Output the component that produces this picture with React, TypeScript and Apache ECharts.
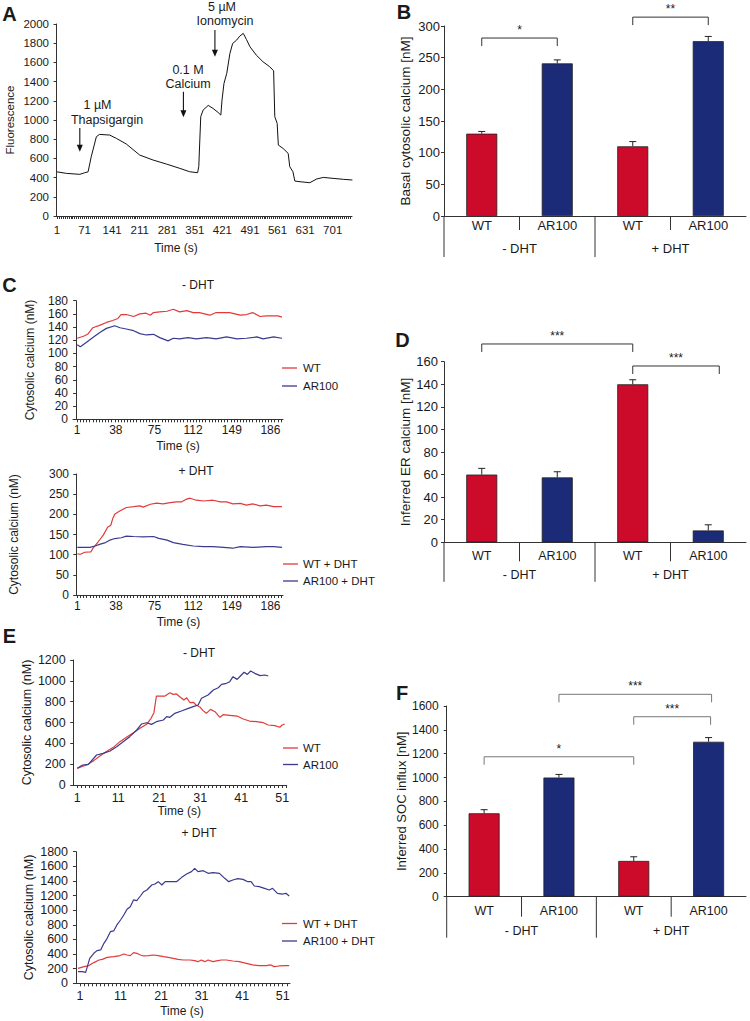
import React, { useEffect, useRef } from "react";
import * as echarts from "echarts";

const FONT = "'Liberation Sans', Arial, Helvetica, sans-serif";
const TXT = "#1a1a1a";
const AXIS = "#333333";
const RED_BAR = "#CC0A2A";
const BLUE_BAR = "#1B2B78";
const RED_LINE = "#E23A3A";
const BLUE_LINE = "#3A3A8E";

// ---------- Panel A : Fluorescence trace ----------
const aTimes = [1, 25, 59, 71, 80, 88, 101, 109, 135, 152, 177, 211, 245, 279, 313, 338, 358, 361, 366, 372, 385, 397, 410, 417, 420, 425, 432, 440, 447, 457, 465, 474, 482, 491, 507, 524, 541, 551, 554, 560, 563, 575, 588, 592, 600, 605, 618, 643, 660, 677, 702, 728, 751];
const aFluorescence = [460, 444, 434, 450, 460, 618, 826, 850, 843, 808, 750, 635, 583, 541, 496, 461, 451, 514, 1034, 1103, 1152, 1121, 1079, 1051, 1207, 1381, 1485, 1693, 1797, 1832, 1874, 1902, 1839, 1763, 1676, 1607, 1555, 1513, 1034, 965, 739, 704, 652, 514, 461, 364, 357, 347, 385, 402, 392, 382, 375];
const aTimeLabels = [1, 71, 141, 211, 281, 351, 421, 491, 561, 631, 701];
const aArrows = [
  { time: 59, tip: 670, tail: 917 },
  { time: 322, tip: 1028, tail: 1295 },
  { time: 402, tip: 1660, tail: 1938 },
];
const aArrowTexts = [
  { text: "1 µM", x: 97.5, y: 105 },
  { text: "Thapsigargin", x: 107, y: 119.5 },
  { text: "0.1 M", x: 188, y: 69.5 },
  { text: "Calcium", x: 188, y: 84 },
  { text: "5 µM", x: 222, y: 6.5 },
  { text: "Ionomycin", x: 225, y: 21 },
];

// ---------- Bar panels (B, D, F) ----------
const barCategories = ["WT", "AR100", "WT", "AR100"];
const groupLabels = ["- DHT", "+ DHT"];

const bValues = [130, 241, 110, 276];
const bErrors = [3.5, 5.5, 7.5, 7.5];
const bBrackets = [
  { from: 0, to: 1, level: 281, label: "*", toDx: 0 },
  { from: 2, to: 3, level: 314, label: "**", toDx: 0 },
];

const dValues = [60, 57.5, 140, 10.5];
const dErrors = [5.5, 5, 4, 5];
const dBrackets = [
  { from: 0, to: 2, level: 175.7, label: "***", toDx: 0 },
  { from: 2, to: 3, level: 156.2, label: "***", toDx: 11 },
];

const fValues = [700, 1000, 300, 1300];
const fErrors = [30, 26, 35, 35];
const fBrackets = [
  { from: 1, to: 3, level: 1698, label: "***", toDx: 3 },
  { from: 2, to: 3, level: 1510, label: "***", toDx: 2 },
  { from: 0, to: 2, level: 1174, label: "*", toDx: 0 },
];

// ---------- Panel C : cytosolic calcium (0-200 s) ----------
const cTimeLabels = [1, 38, 75, 112, 149, 186];
const cMinusWT: number[][] = [[1, 123], [7, 126], [11, 129], [16, 139], [23, 143], [29, 147], [35, 150], [40, 153], [43, 159], [48, 159], [55, 156], [61, 160], [67, 161], [71, 158], [74, 162], [80, 163], [87, 164], [93, 167], [99, 163], [106, 165], [112, 162], [118, 162], [128, 158], [134, 162], [147, 162], [157, 158], [163, 159], [169, 162], [176, 156], [182, 157], [189, 157], [193, 157], [197, 155]];
const cMinusAR100: number[][] = [[1, 113], [4, 110], [10, 117], [16, 124], [23, 132], [29, 138], [37, 142], [42, 139], [48, 137], [55, 134.5], [61, 130], [67, 128], [74, 129], [80, 124], [88, 119], [93, 123], [99, 122], [107, 124], [115, 122], [125, 124], [134, 122], [144, 125], [154, 122], [163, 123], [173, 125], [179, 122], [189, 125], [197, 123]];
const cPlusWT: number[][] = [[1, 102], [4, 101], [8, 106], [14, 107], [16, 116], [21, 132], [26, 149], [30, 168], [33, 173], [35, 190], [37, 201], [42, 209], [48, 217], [55, 219], [61, 221], [64, 218], [71, 225], [77, 228], [83, 226], [90, 229], [96, 231], [101, 231], [105, 237], [109, 240], [115, 235], [122, 233], [131, 235], [138, 231], [144, 231], [150, 226], [157, 227], [163, 223], [169, 226], [176, 221], [182, 223], [189, 219], [197, 219]];
const cPlusAR100: number[][] = [[1, 118], [13, 118], [18, 121.5], [23, 126], [28, 130], [32, 136], [37, 140], [43, 142], [48, 146], [55, 145], [64, 144], [74, 145], [79, 140.5], [87, 136], [93, 130], [102, 125.5], [112, 121.5], [122, 120], [131, 120], [141, 118], [150, 116], [157, 120], [169, 118], [182, 120], [189, 120], [197, 118]];

// ---------- Panel E : cytosolic calcium (0-52 s) ----------
const eTimeLabels = [1, 11, 21, 31, 41, 51];
const eMinusWT: number[][] = [[1, 160], [2, 176], [3.3, 192], [5, 234], [6.5, 278], [8, 320], [10, 368], [11.4, 416], [13, 458], [14.7, 502], [16.3, 544], [18, 586], [19, 640], [19.7, 694], [20.3, 854], [21, 854], [22.4, 854], [23.6, 886], [24.4, 870], [25.2, 874], [26, 848], [27, 816], [27.7, 838], [28.5, 790], [29.3, 794], [30, 768], [31, 746], [31.7, 714], [32.5, 688], [33.5, 726], [34.6, 704], [35.8, 650], [36.6, 675], [38.2, 669], [40, 662], [41.5, 634], [43, 614], [44.7, 608], [46.4, 598], [47.6, 576], [49.2, 570], [50.4, 554], [51, 576], [51.6, 586]];
const eMinusAR100: number[][] = [[1, 160], [2.3, 192], [3.7, 198], [5.7, 288], [7.3, 304], [9, 326], [10.6, 368], [12.2, 416], [13.8, 464], [15.5, 528], [16.7, 586], [17.9, 598], [19.1, 582], [20.3, 608], [22, 624], [22.8, 656], [23.6, 650], [24.8, 688], [26.4, 710], [28.1, 736], [29.3, 752], [30.5, 768], [31.3, 832], [32.9, 864], [34.2, 912], [35.4, 934], [36.2, 966], [37.4, 976], [38.2, 992], [39, 1040], [40, 1014], [40.8, 1046], [41.7, 1082], [42.5, 1062], [43.3, 1094], [44.3, 1072], [45.6, 1050], [46.8, 1056], [47.6, 1046]];
const ePlusWT: number[][] = [[0.5, 205], [2, 228], [3.2, 242], [4.4, 283], [5.7, 319], [6.5, 328], [7.7, 355], [9.3, 365], [10.6, 374], [11.8, 401], [12.6, 387], [13.4, 378], [14.2, 419], [15, 410], [15.9, 387], [16.7, 374], [17.9, 378], [19.1, 387], [20.3, 378], [21.6, 365], [22.8, 355], [24, 342], [25.2, 328], [26.5, 319], [28.1, 319], [29.3, 310], [30.1, 296], [30.9, 319], [31.8, 296], [32.6, 319], [33.8, 296], [35, 310], [35.9, 319], [37.1, 319], [38.7, 305], [40.3, 296], [42, 273], [43.6, 251], [45.2, 242], [46.9, 242], [48.1, 251], [48.9, 228], [50.1, 237], [51.8, 242], [52.6, 242]];
const ePlusAR100: number[][] = [[0.5, 160], [1.6, 160], [2.4, 150], [3.4, 342], [4.4, 410], [5.2, 447], [6.1, 456], [6.9, 547], [7.7, 615], [8.5, 706], [9.3, 716], [10.1, 798], [11, 866], [11.8, 934], [12.6, 1012], [13.4, 1048], [14.2, 1140], [15, 1130], [15.9, 1194], [16.7, 1253], [17.5, 1276], [18.7, 1345], [19.5, 1358], [20.3, 1390], [21.2, 1345], [22, 1390], [23.2, 1390], [24.8, 1390], [26.1, 1449], [27.3, 1495], [28.5, 1527], [29.3, 1572], [30.1, 1527], [31.4, 1540], [32.6, 1504], [33.8, 1513], [35.4, 1504], [36.7, 1436], [37.7, 1390], [38.7, 1413], [39.9, 1431], [41.2, 1422], [42.4, 1390], [43.2, 1390], [44, 1331], [45.2, 1322], [46.5, 1299], [47.7, 1276], [48.5, 1299], [49.7, 1231], [51, 1221], [51.8, 1231], [52.6, 1194]];

// ---------- helpers ----------
function range(start: number, end: number, step: number) {
  const out: number[] = [];
  for (let v = start; v <= end + 1e-9; v += step) out.push(v);
  return out;
}

const plain = (v: number) => String(v);

const grids = [
  { left: 55, top: 24, width: 297, height: 192 }, // 0 A
  { left: 444, top: 26, width: 302, height: 190 }, // 1 B
  { left: 73, top: 300.7, width: 210, height: 118.6 }, // 2 C-
  { left: 74, top: 474, width: 209, height: 121 }, // 3 C+
  { left: 444, top: 361.7, width: 302, height: 180.6 }, // 4 D
  { left: 71.7, top: 660, width: 215, height: 125 }, // 5 E-
  { left: 74, top: 851.7, width: 216, height: 131.6 }, // 6 E+
  { left: 446.7, top: 706, width: 299.3, height: 190.7 }, // 7 F
];

function yAxis(gi: number, max: number, interval: number, fs: number, margin: number, name: string, nameFs: number, nameGap: number) {
  return {
    type: "value", gridIndex: gi, min: 0, max, interval,
    name, nameLocation: "middle", nameGap,
    nameTextStyle: { fontSize: nameFs, fontFamily: FONT, color: TXT },
    axisLine: { show: true, lineStyle: { color: AXIS, width: 1 } },
    axisTick: { show: true, length: 3, lineStyle: { color: AXIS, width: 1 } },
    axisLabel: { fontSize: fs, fontFamily: FONT, color: TXT, margin, formatter: plain },
    splitLine: { show: false },
  };
}

function timeAxis(gi: number, min: number, max: number, labels: number[], ticks: number[], fs: number, margin: number, showName: boolean, nameGap: number) {
  return {
    type: "value", gridIndex: gi, min, max,
    name: showName ? "Time (s)" : "", nameLocation: "middle", nameGap,
    nameTextStyle: { fontSize: 12, fontFamily: FONT, color: TXT },
    axisLine: { show: true, lineStyle: { color: AXIS, width: 1 } },
    axisTick: { show: true, length: 3, customValues: ticks, lineStyle: { color: AXIS, width: 1 } },
    axisLabel: { customValues: labels, fontSize: fs, fontFamily: FONT, color: TXT, margin, formatter: plain },
    splitLine: { show: false },
  };
}

function catAxis(gi: number, fs: number, margin: number) {
  return {
    type: "category", gridIndex: gi, data: barCategories,
    axisLine: { show: true, lineStyle: { color: AXIS, width: 1 } },
    axisTick: { show: false },
    axisLabel: { fontSize: fs, fontFamily: FONT, color: TXT, margin, interval: 0 },
    splitLine: { show: false },
  };
}

function barSeries(gi: number, values: number[]) {
  return {
    type: "bar", xAxisIndex: gi, yAxisIndex: gi, barWidth: 31, silent: true,
    data: values.map((v, i) => ({
      value: v,
      itemStyle: { color: barCategories[i] === "WT" ? RED_BAR : BLUE_BAR },
    })),
    itemStyle: { borderColor: "#222", borderWidth: 0.8 },
  };
}

function errorSeries(gi: number, values: number[], errors: number[]) {
  return {
    type: "custom", xAxisIndex: gi, yAxisIndex: gi, silent: true,
    data: values.map((v, i) => [i, v, v + errors[i]]),
    renderItem: (_p: any, api: any) => {
      const base = api.coord([api.value(0), api.value(1)]);
      const top = api.coord([api.value(0), api.value(2)]);
      const st = { stroke: "#222", lineWidth: 1 };
      return {
        type: "group",
        children: [
          { type: "line", shape: { x1: base[0], y1: base[1], x2: top[0], y2: top[1] }, style: st },
          { type: "line", shape: { x1: top[0] - 3.5, y1: top[1], x2: top[0] + 3.5, y2: top[1] }, style: st },
        ],
      };
    },
  };
}

function lineSeries(gi: number, name: string, data: number[][], color: string, width = 1.2) {
  return {
    type: "line", name, xAxisIndex: gi, yAxisIndex: gi, data,
    showSymbol: false, symbol: "none", silent: true,
    lineStyle: { color, width }, itemStyle: { color },
  };
}

function buildOption() {
  return {
    animation: false,
    backgroundColor: "#ffffff",
    textStyle: { fontFamily: FONT },
    grid: grids.map((g) => ({ ...g, containLabel: false })),
    xAxis: [
      timeAxis(0, -4, 750, aTimeLabels, range(1, 750, 5), 11.5, 8, false, 20),
      catAxis(1, 13, 3),
      timeAxis(2, -3, 198, cTimeLabels, range(1, 198, 3), 12, 5, true, 21),
      timeAxis(3, -2.2, 198, cTimeLabels, range(1, 198, 3), 12, 5, true, 21),
      catAxis(4, 12.5, 7),
      timeAxis(5, -0.37, 52.1, eTimeLabels, range(1, 52, 1), 12.5, 6, true, 19),
      timeAxis(6, -0.48, 52.8, eTimeLabels, range(1, 52, 1), 12.5, 6, true, 22),
      catAxis(7, 12.5, 8),
    ],
    yAxis: [
      yAxis(0, 2000, 200, 11.5, 6, "Fluorescence", 11.5, 39.5),
      yAxis(1, 300, 50, 13, 4, "Basal cytosolic calcium [nM]", 13.5, 31.5),
      yAxis(2, 180, 20, 12, 5, "Cytosolic calcium (nM)", 12, 37.5),
      yAxis(3, 300, 50, 12, 5, "Cytosolic calcium (nM)", 12, 54),
      yAxis(4, 160, 20, 13, 6, "Inferred ER calcium [nM]", 13.5, 31.5),
      yAxis(5, 1200, 200, 12.5, 6, "Cytosolic calcium (nM)", 12.5, 36.5),
      yAxis(6, 1800, 200, 12.5, 6, "Cytosolic calcium (nM)", 12.5, 38.5),
      yAxis(7, 1600, 200, 12, 8, "Inferred SOC influx [nM]", 13, 34.5),
    ],
    series: [
      lineSeries(0, "Fluorescence", aTimes.map((t, i) => [t, aFluorescence[i]]), "#111111", 1),
      barSeries(1, bValues),
      errorSeries(1, bValues, bErrors),
      lineSeries(2, "WT", cMinusWT, RED_LINE),
      lineSeries(2, "AR100", cMinusAR100, BLUE_LINE),
      lineSeries(3, "WT + DHT", cPlusWT, RED_LINE),
      lineSeries(3, "AR100 + DHT", cPlusAR100, BLUE_LINE),
      barSeries(4, dValues),
      errorSeries(4, dValues, dErrors),
      lineSeries(5, "WT", eMinusWT, RED_LINE),
      lineSeries(5, "AR100", eMinusAR100, BLUE_LINE),
      lineSeries(6, "WT + DHT", ePlusWT, RED_LINE),
      lineSeries(6, "AR100 + DHT", ePlusAR100, BLUE_LINE),
      barSeries(7, fValues),
      errorSeries(7, fValues, fErrors),
    ],
  };
}

function txt(text: string, x: number, y: number, fs: number, opts: any = {}) {
  const align = opts.align || "center";
  return {
    type: "text", x, y, silent: true, z: 100,
    style: {
      text, fill: TXT, fontSize: fs, fontFamily: FONT, fontWeight: opts.bold ? "bold" : "normal",
      align, verticalAlign: "middle", textAlign: align, textVerticalAlign: "middle",
    },
  };
}

function ln(x1: number, y1: number, x2: number, y2: number, color = AXIS, w = 1) {
  return { type: "line", silent: true, z: 100, shape: { x1, y1, x2, y2 }, style: { stroke: color, lineWidth: w } };
}

function buildGraphics(chart: any) {
  const els: any[] = [];
  const px = (gi: number, x: number, y: number) =>
    chart.convertToPixel({ xAxisIndex: gi, yAxisIndex: gi }, [x, y]) as number[];

  // panel letters
  els.push(txt("A", 9.5, 13.5, 20, { bold: true }));
  els.push(txt("B", 404, 12, 20, { bold: true }));
  els.push(txt("C", 9.5, 285, 20, { bold: true }));
  els.push(txt("D", 402.5, 340, 20, { bold: true }));
  els.push(txt("E", 9.5, 636, 20, { bold: true }));
  els.push(txt("F", 402, 692.5, 20, { bold: true }));

  // panel A arrows and labels
  aArrows.forEach((a) => {
    const tip = px(0, a.time, a.tip);
    const tail = px(0, a.time, a.tail);
    els.push(ln(tail[0], tail[1], tip[0], tip[1] - 5, "#111", 1.1));
    els.push({
      type: "polygon", silent: true, z: 100,
      shape: { points: [[tip[0] - 3, tip[1] - 7], [tip[0] + 3, tip[1] - 7], [tip[0], tip[1]]] },
      style: { fill: "#111" },
    });
  });
  aArrowTexts.forEach((t) => els.push(txt(t.text, t.x, t.y, 12.5)));
  els.push(txt("Time (s)", 176, 248, 12));

  // C / E titles and legends
  els.push(txt("- DHT", 198, 285, 12));
  els.push(txt("+ DHT", 196, 471, 12));
  els.push(txt("- DHT", 199, 653, 12));
  els.push(txt("+ DHT", 199, 833, 12));
  const legend = (x1: number, y: number, color: string, label: string) => {
    els.push(ln(x1, y, x1 + 15, y, color, 1.3));
    els.push(txt(label, 303, y, 11.5, { align: "left" }));
  };
  legend(282, 368, RED_LINE, "WT");
  legend(282, 386, BLUE_LINE, "AR100");
  legend(283, 564, RED_LINE, "WT + DHT");
  legend(283, 581, BLUE_LINE, "AR100 + DHT");
  legend(283, 748, RED_LINE, "WT");
  legend(283, 764.5, BLUE_LINE, "AR100");
  legend(282, 923.5, RED_LINE, "WT + DHT");
  legend(282, 941, BLUE_LINE, "AR100 + DHT");

  // bar panels: two-level category separators, group labels, brackets
  const barPanels = [
    { gi: 1, innerDrop: 14, groupDrop: 41, groupLabelDy: 32, groupFs: 13, brackets: bBrackets, bColor: "#333", starFs: 12 },
    { gi: 4, innerDrop: 19, groupDrop: 39.5, groupLabelDy: 32.5, groupFs: 12.5, brackets: dBrackets, bColor: "#333", starFs: 12 },
    { gi: 7, innerDrop: 20, groupDrop: 41, groupLabelDy: 34.5, groupFs: 12.5, brackets: fBrackets, bColor: "#777", starFs: 12 },
  ];
  barPanels.forEach((p) => {
    const centers = barCategories.map((_c, i) => px(p.gi, i, 0));
    const y0 = centers[0][1];
    const band = centers[1][0] - centers[0][0];
    const bounds = [0, 1, 2, 3, 4].map((k) => centers[0][0] - band / 2 + k * band);
    els.push(ln(bounds[0], y0, bounds[0], y0 + p.groupDrop));
    els.push(ln(bounds[1], y0, bounds[1], y0 + p.innerDrop));
    els.push(ln(bounds[2], y0, bounds[2], y0 + p.groupDrop));
    els.push(ln(bounds[3], y0, bounds[3], y0 + p.innerDrop));
    groupLabels.forEach((g, k) => {
      const cx = (bounds[2 * k] + bounds[2 * k + 2]) / 2;
      els.push(txt(g, cx, y0 + p.groupLabelDy, p.groupFs));
    });
    p.brackets.forEach((b) => {
      const a = px(p.gi, b.from, b.level);
      const c = px(p.gi, b.to, b.level);
      const x1 = a[0];
      const x2 = c[0] + (b.toDx || 0);
      const y = a[1];
      els.push(ln(x1, y, x2, y, p.bColor, 1));
      els.push(ln(x1, y, x1, y + 8, p.bColor, 1));
      els.push(ln(x2, y, x2, y + 8, p.bColor, 1));
      els.push(txt(b.label, (x1 + x2) / 2, y - 8, p.starFs));
    });
  });
  return els;
}

export default function App() {
  const ref = useRef<HTMLDivElement>(null);
  useEffect(() => {
    const el = ref.current;
    if (!el) return;
    const chart = echarts.init(el, null, { renderer: "svg" });
    chart.setOption(buildOption() as any);
    chart.setOption({ graphic: { elements: buildGraphics(chart) } } as any);
    return () => chart.dispose();
  }, []);
  return (
    <div
      ref={ref}
      style={{ position: "absolute", left: 0, top: 0, width: 750, height: 1021, background: "#fff" }}
    />
  );
}
